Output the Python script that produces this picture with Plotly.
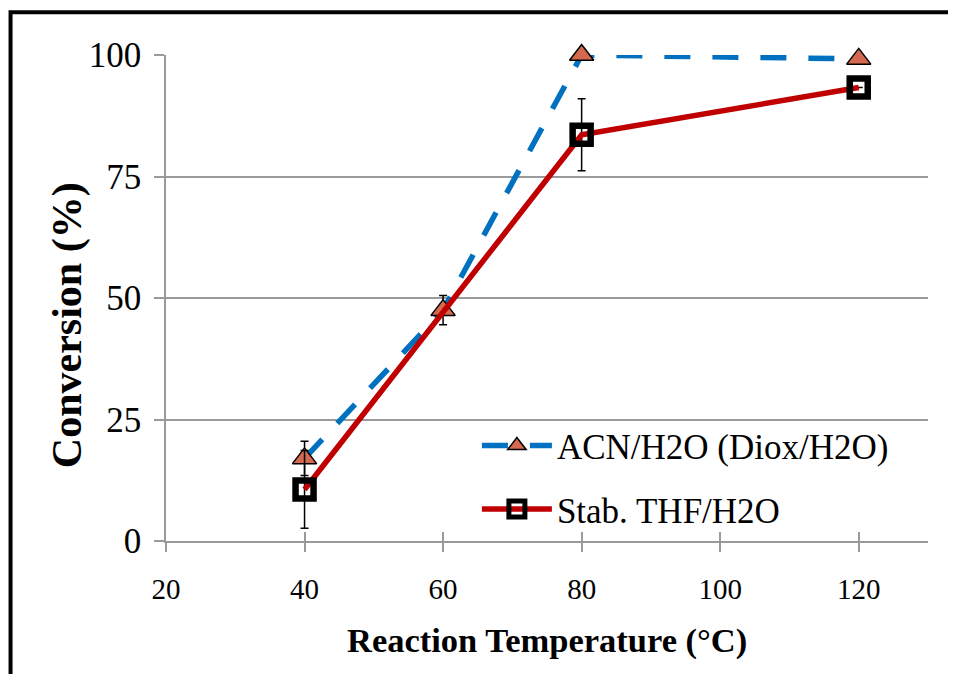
import plotly.graph_objects as go

# Data
temps_acn = [40, 60, 80, 120]
acn = [17.0, 47.5, 100.0, 99.2]
acn_err = [3.5, 3.0, 0.0, 0.0]

temps_thf = [40, 80, 120]
thf = [10.6, 83.6, 93.3]
thf_err = [8.0, 7.4, 0.0]

x_ticks = [20, 40, 60, 80, 100, 120]
y_ticks = [0, 25, 50, 75, 100]

FONT = "Times New Roman, Liberation Serif, serif"
GRID = "#9a9a9a"

fig = go.Figure()

fig.add_trace(go.Scatter(
    x=temps_acn, y=acn, name="ACN/H2O (Diox/H2O)", mode="lines+markers",
    line=dict(color="#0070C0", width=5.5, dash="26px,22px"),
    marker=dict(symbol="triangle-up", size=21, color="#D4694F",
                line=dict(color="black", width=1.5)),
    error_y=dict(type="data", array=acn_err, color="black", thickness=1.5, width=4),
    cliponaxis=False, legendgroup="a",
))

fig.add_trace(go.Scatter(
    x=temps_thf, y=thf, name="Stab. THF/H2O", mode="lines+markers",
    line=dict(color="#C00000", width=5.5),
    marker=dict(symbol="square", size=18, color="rgba(0,0,0,0)",
                line=dict(color="black", width=6.5)),
    error_y=dict(type="data", array=thf_err, color="black", thickness=1.5, width=4),
    cliponaxis=False, legendgroup="b",
))

# dummy overlay axis for inside ticks (cross ticks)
fig.add_trace(go.Scatter(x=[None], y=[None], xaxis="x2", showlegend=False, hoverinfo="skip"))

fig.update_layout(
    width=948, height=666,
    margin=dict(l=158, r=28, t=47, b=133),
    paper_bgcolor="white", plot_bgcolor="white",
    font=dict(family=FONT, color="black"),
    showlegend=True,
    legend=dict(x=0.408, y=0.131, xanchor="left", yanchor="middle",
                font=dict(family=FONT, size=35, color="black"),
                bgcolor="rgba(0,0,0,0)", itemwidth=70,
                traceorder="grouped", tracegroupgap=15),
    xaxis=dict(range=[20, 130], tickvals=x_ticks, ticktext=[str(v) for v in x_ticks],
               showgrid=False, zeroline=False,
               showline=True, linecolor=GRID, linewidth=1.5,
               ticks="outside", ticklen=9, tickcolor=GRID, tickwidth=1.5,
               tickfont=dict(family=FONT, size=29, color="black"),
               ticklabelstandoff=12),
    xaxis2=dict(range=[20, 130], overlaying="x", anchor="y", side="bottom",
                tickvals=x_ticks, showticklabels=False, showgrid=False, zeroline=False,
                ticks="inside", ticklen=9, tickcolor=GRID, tickwidth=1.5, showline=False),
    yaxis=dict(range=[0, 100], tickvals=y_ticks, ticktext=[str(v) for v in y_ticks],
               showgrid=True, gridcolor=GRID, gridwidth=1.5, zeroline=False,
               showline=True, linecolor=GRID, linewidth=1.5,
               ticks="outside", ticklen=10, tickcolor=GRID, tickwidth=1.5,
               tickfont=dict(family=FONT, size=35, color="black"),
               ticklabelstandoff=6),
    annotations=[
        dict(text="<b>Reaction Temperature (°C)</b>", xref="paper", yref="paper",
             x=0.5, y=-0.204, xanchor="center", yanchor="middle", showarrow=False,
             font=dict(family=FONT, size=34.5, color="black")),
        dict(text="<b>Conversion (%)</b>", xref="paper", yref="paper",
             x=-0.130, y=0.444, xanchor="center", yanchor="middle", showarrow=False,
             textangle=-90, font=dict(family=FONT, size=42, color="black")),
    ],
    shapes=[
        dict(type="rect", xref="paper", yref="paper", x0=-0.204, y0=-0.6, x1=1.2, y1=1.088,
             line=dict(color="black", width=4), fillcolor="rgba(0,0,0,0)", layer="below"),
    ],
)

fig.write_html("out.html")
